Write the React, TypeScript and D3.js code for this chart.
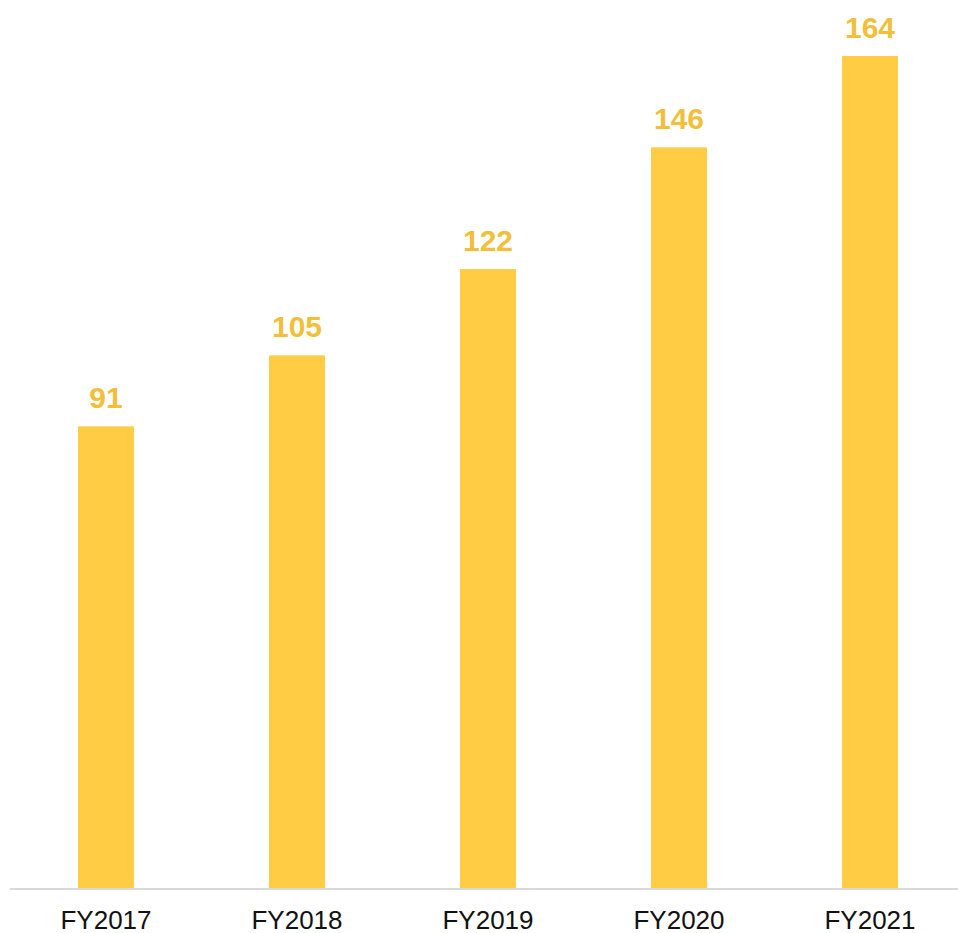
import React from "react";
import * as d3 from "d3";

const categories = ["FY2017", "FY2018", "FY2019", "FY2020", "FY2021"];
const values = [91, 105, 122, 146, 164];

export default function App() {
  const W = 958;
  const H = 933;
  const baseY = 888;
  const x = d3
    .scaleBand<string>()
    .domain(categories)
    .range([10.5, 965.5])
    .paddingInner(0.707)
    .paddingOuter(0.3535);
  const y = d3.scaleLinear().domain([0, 164]).range([baseY, 56]);

  return (
    <svg
      width={W}
      height={H}
      style={{ position: "absolute", left: 0, top: 0, background: "#fff" }}
      fontFamily="Arial, 'Liberation Sans', sans-serif"
    >
      {categories.map((c, i) => (
        <g key={c}>
          <rect
            x={x(c)}
            y={y(values[i])}
            width={x.bandwidth()}
            height={baseY - y(values[i])}
            fill="#FFCC44"
          />
          <text
            x={(x(c) as number) + x.bandwidth() / 2}
            y={y(values[i]) - 18}
            textAnchor="middle"
            fontSize={30}
            fontWeight="bold"
            fill="#F2BF3A"
          >
            {values[i]}
          </text>
          <text
            x={(x(c) as number) + x.bandwidth() / 2}
            y={929}
            textAnchor="middle"
            fontSize={26}
            fill="#111"
          >
            {c}
          </text>
        </g>
      ))}
      <line x1={10} x2={958} y1={889} y2={889} stroke="#D9D9D9" strokeWidth={2} />
    </svg>
  );
}
